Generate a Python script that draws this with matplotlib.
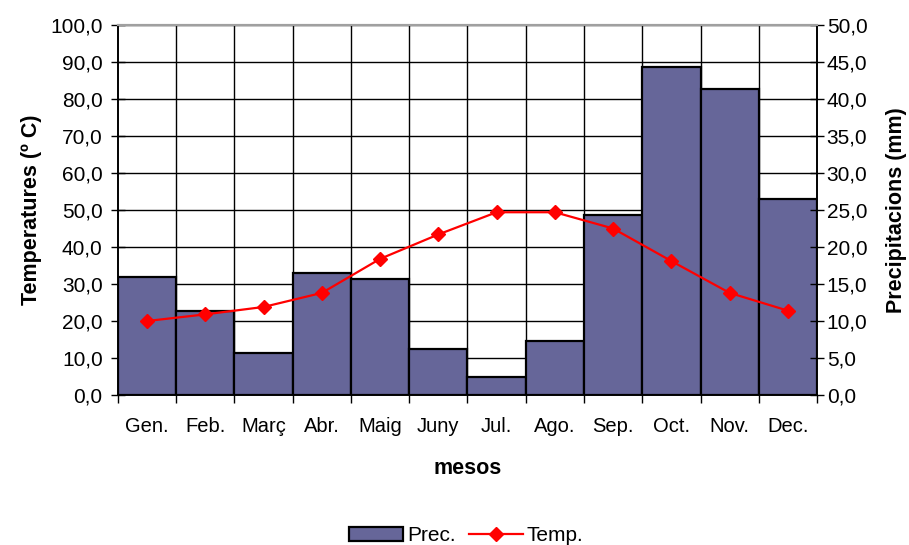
import numpy as np
import matplotlib.pyplot as plt
from matplotlib import font_manager

# dades del climograma
mesos = ["Gen.", "Feb.", "Març", "Abr.", "Maig", "Juny", "Jul.", "Ago.", "Sep.", "Oct.", "Nov.", "Dec."]
prec = [32.0, 22.8, 11.4, 33.1, 31.4, 12.5, 4.9, 14.7, 48.7, 88.7, 82.8, 53.0]
temp = [10.0, 10.9, 11.9, 13.8, 18.4, 21.7, 24.7, 24.7, 22.5, 18.1, 13.8, 11.4]

noms = [f.name for f in font_manager.fontManager.ttflist]
narrow = "Liberation Sans Narrow" if "Liberation Sans Narrow" in noms else "Liberation Sans"
plt.rcParams['font.family'] = ['Liberation Sans', 'DejaVu Sans']

fig = plt.figure(figsize=(9.09, 5.45), dpi=100)
ax = fig.add_axes([0.1298, 0.2752, 0.7690, 0.6789])
ax2 = ax.twinx()

x = np.arange(len(mesos))
ax.bar(x, prec, width=1.0, color="#666699", edgecolor="black", linewidth=1.6, zorder=3, label="Prec.")
ax2.plot(x, temp, color="red", marker="D", markersize=7, linewidth=1.6, zorder=4, label="Temp.")

ax.set_xlim(-0.5, 11.5)
ax.set_ylim(0, 100)
ax2.set_ylim(0, 50)
ax.set_yticks(np.arange(0, 101, 10))
ax2.set_yticks(np.arange(0, 51, 5))
ax.set_yticklabels([f"{v:.1f}".replace(".", ",") for v in np.arange(0, 101, 10)], fontsize=15)
ax2.set_yticklabels([f"{v:.1f}".replace(".", ",") for v in np.arange(0, 51, 5)], fontsize=15)

# graella
for v in np.arange(10, 101, 10):
    ax.axhline(v, color="black", linewidth=1.0, zorder=1)
for b in np.arange(0.5, 11.5, 1):
    ax.axvline(b, color="black", linewidth=1.0, zorder=1)

ax.set_xticks(x)
ax.set_xticklabels(mesos, fontsize=14.5, family=narrow)
ax.tick_params(axis="x", length=0, pad=16)
ax.set_xticks(np.arange(-0.5, 12, 1), minor=True)
ax.tick_params(axis="x", which="minor", length=6, direction="out", width=1)
ax.tick_params(axis="y", direction="inout", length=10, width=1, pad=6)
ax2.tick_params(axis="y", direction="inout", length=10, width=1, pad=2)

for a in (ax, ax2):
    for s in ("left", "right", "bottom"):
        a.spines[s].set_linewidth(1.2)
        a.spines[s].set_color("black")
    a.spines["top"].set_color("#a0a0a0")
    a.spines["top"].set_linewidth(1.5)

ax.set_ylabel("Temperatures (º C)", fontsize=15.5, fontweight="bold", labelpad=6)
ax2.set_ylabel("Precipitacions (mm)", fontsize=15.5, fontweight="bold", labelpad=13)
ax.set_xlabel("mesos", fontsize=15.5, fontweight="bold", labelpad=16)

h1, l1 = ax.get_legend_handles_labels()
h2, l2 = ax2.get_legend_handles_labels()
fig.legend(h1 + h2, l1 + l2, loc="center", bbox_to_anchor=(0.513, 0.017), ncol=2, frameon=False,
           handlelength=2.6, handletextpad=0.2, columnspacing=0.6, prop={"family": narrow, "size": 15})

fig.savefig("out.png", dpi=100)
